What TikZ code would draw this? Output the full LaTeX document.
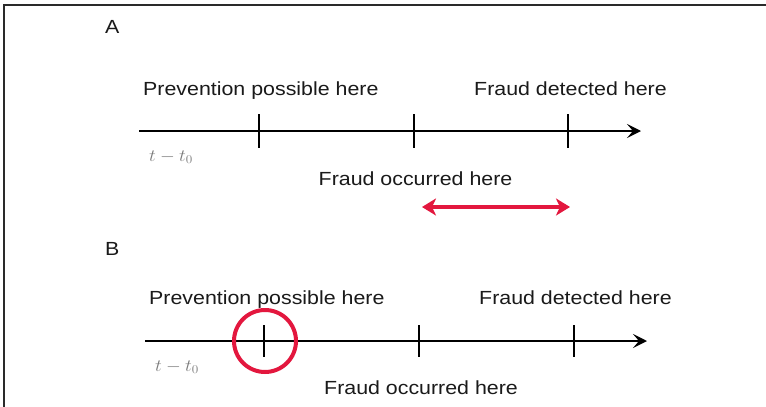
\documentclass[tikz,border=0pt]{standalone}
\usepackage{fontspec}
\usepackage{graphicx}
\usetikzlibrary{arrows.meta}
\newfontfamily\labfont{Liberation Sans}
\definecolor{txtgray}{HTML}{1A1A1A}
\definecolor{frausred}{HTML}{E3173E}
\definecolor{lightlab}{HTML}{7A7A7A}
\definecolor{framegray}{HTML}{2A2A2A}
\newcommand{\wtxt}[1]{\scalebox{1.125}[1]{\labfont\fontsize{19}{21}\selectfont #1}}
\newcommand{\ttxt}{\scalebox{1.1}[1]{\fontsize{17}{19}\selectfont $t-t_0$}}
\tikzset{
  lab/.style={anchor=base west, inner sep=0pt, text=txtgray},
  tlab/.style={anchor=base west, inner sep=0pt, text=lightlab},
  axisline/.style={line width=2.8pt, draw=black, -{Stealth[length=14pt,width=14pt,inset=6pt]}},
  tickline/.style={line width=2.3pt, draw=black},
  redarrow/.style={line width=4.5pt, draw=frausred, {Stealth[length=14pt,width=17pt,inset=4pt]}-{Stealth[length=14pt,width=17pt,inset=4pt]}},
  redcircle/.style={line width=4pt, draw=frausred},
}
\begin{document}
\begin{tikzpicture}[x=1pt,y=-1pt]
\useasboundingbox (0,0) rectangle (766,407);
\fill[white] (0,0) rectangle (766,407);
% frame
\draw[line width=2pt, framegray] (4,407) -- (4,5) -- (766,5);
% ---------- A ----------
\node[lab] (labA) at (105,33) {\wtxt{A}};
\coordinate (a0) at (139,131);
\coordinate (a1) at (641,131);
\draw[axisline] (a0) -- (a1);
\coordinate (at1t) at (259,114); \coordinate (at1b) at (259,148);
\coordinate (at2t) at (414,114); \coordinate (at2b) at (414,148);
\coordinate (at3t) at (568,114); \coordinate (at3b) at (568,148);
\draw[tickline] (at1t) -- (at1b);
\draw[tickline] (at2t) -- (at2b);
\draw[tickline] (at3t) -- (at3b);
\node[lab] (aprev) at (143,95) {\wtxt{Prevention possible here}};
\node[lab] (adet) at (474,95) {\wtxt{Fraud detected here}};
\node[tlab] (at0) at (149,161) {\ttxt};
\node[lab] (aocc) at (318.5,185) {\wtxt{Fraud occurred here}};
\coordinate (ra0) at (422,207);
\coordinate (ra1) at (570,207);
\draw[redarrow] (ra0) -- (ra1);
% ---------- B ----------
\node[lab] (labB) at (105,255) {\wtxt{B}};
\coordinate (b0) at (145,341);
\coordinate (b1) at (647,341);
\draw[axisline] (b0) -- (b1);
\coordinate (bt1t) at (264,325); \coordinate (bt1b) at (264,357);
\coordinate (bt2t) at (419,325); \coordinate (bt2b) at (419,357);
\coordinate (bt3t) at (574,325); \coordinate (bt3b) at (574,357);
\draw[tickline] (bt1t) -- (bt1b);
\draw[tickline] (bt2t) -- (bt2b);
\draw[tickline] (bt3t) -- (bt3b);
\node[lab] (bprev) at (149,304) {\wtxt{Prevention possible here}};
\node[lab] (bdet) at (479,304) {\wtxt{Fraud detected here}};
\node[tlab] (bt0) at (155,371) {\ttxt};
\node[lab] (bocc) at (324,394) {\wtxt{Fraud occurred here}};
\node[redcircle, circle, minimum size=62pt, inner sep=0pt] (ring) at (265,341) {};
\end{tikzpicture}
\end{document}
